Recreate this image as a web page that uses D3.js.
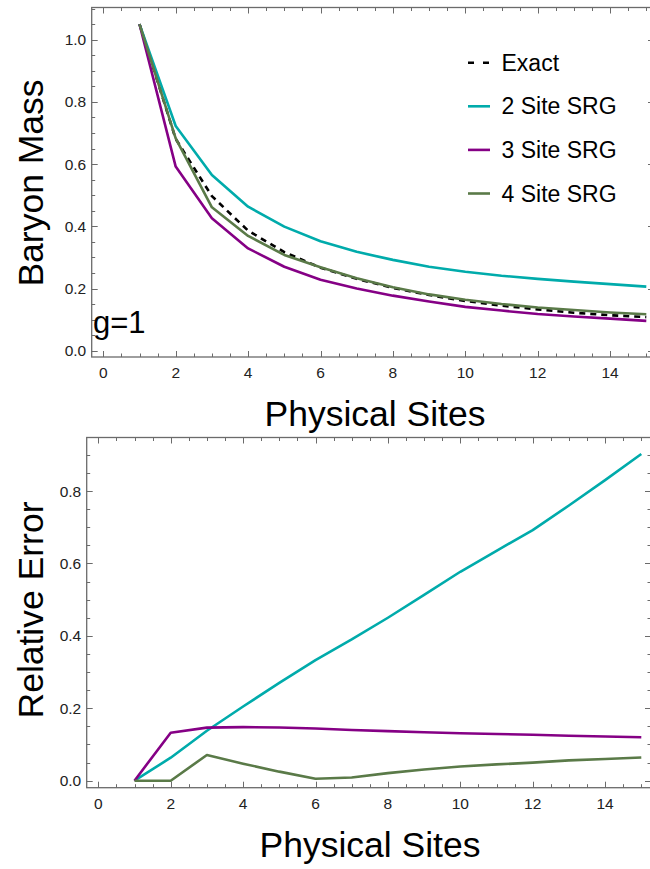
<!DOCTYPE html>
<html>
<head>
<meta charset="utf-8">
<script src="https://cdn.jsdelivr.net/npm/d3@7"></script>
<style>
  html, body { margin: 0; padding: 0; background: #fff; }
  svg { display: block; font-family: "Liberation Sans", Arial, sans-serif; }
</style>
</head>
<body>
<svg id="chart" width="650" height="869"></svg>
<script>
// Number of physical sites
const sites = [1, 2, 3, 4, 5, 6, 7, 8, 9, 10, 11, 12, 13, 14, 15];

// Baryon mass, g = 1
const massExact = [1.05, 0.681, 0.497, 0.386, 0.317, 0.267, 0.231, 0.202, 0.179, 0.160, 0.145, 0.133, 0.122, 0.114, 0.108];
const mass2 = [1.05, 0.7225, 0.565, 0.463, 0.399, 0.352, 0.318, 0.292, 0.270, 0.254, 0.241, 0.231, 0.222, 0.214, 0.206];
const mass3 = [1.05, 0.592, 0.426, 0.329, 0.270, 0.228, 0.200, 0.177, 0.158, 0.141, 0.129, 0.118, 0.110, 0.103, 0.096];
const mass4 = [1.05, 0.683, 0.461, 0.369, 0.308, 0.268, 0.233, 0.204, 0.181, 0.164, 0.150, 0.139, 0.131, 0.123, 0.117];

// Relative error against the exact mass
const err2 = [0, 0.0635, 0.138, 0.205, 0.270, 0.333, 0.390, 0.450, 0.513, 0.577, 0.635, 0.692, 0.760, 0.830, 0.902];
const err3 = [0, 0.1326, 0.1465, 0.148, 0.147, 0.144, 0.140, 0.137, 0.134, 0.131, 0.129, 0.127, 0.124, 0.122, 0.120];
const err4 = [0, 0, 0.071, 0.047, 0.025, 0.0055, 0.009, 0.021, 0.031, 0.039, 0.045, 0.050, 0.056, 0.060, 0.064];

const seriesNames = ["Exact", "2 Site SRG", "3 Site SRG", "4 Site SRG"];
const xTickValues = [0, 2, 4, 6, 8, 10, 12, 14];
const massTickValues = [0, 0.2, 0.4, 0.6, 0.8, 1.0];
const errTickValues = [0, 0.2, 0.4, 0.6, 0.8];

const colors = {
  "Exact": "#000000",
  "2 Site SRG": "#00abab",
  "3 Site SRG": "#850085",
  "4 Site SRG": "#5a7a48"
};
const axisColor = "#6b6b6b";

const svg = d3.select("#chart");

function panel(opts) {
  const { left, right, top, bottom, x, y, yMax, yTicks, yTitle, series } = opts;
  const g = svg.append("g");

  // minor x ticks every 0.5, major every 2
  const xMinor = d3.range(0, 15.5, 0.5).filter(v => x(v) > left + 1 && x(v) < right - 1);
  const yMinorVals = d3.range(0, yMax + 1e-9, 0.05).map(v => +v.toFixed(2)).filter(v => y(v) < bottom - 1 && y(v) > top + 1);
  const isMajorX = v => Math.abs(v % 2) < 1e-9;
  const isMajorY = v => yTicks.some(t => Math.abs(t - v) < 1e-9);

  const tickG = g.append("g").attr("stroke", axisColor).attr("stroke-width", 1);
  xMinor.forEach(v => {
    const L = isMajorX(v) ? 6 : 3.5;
    const px = Math.round(x(v)) + 0.5;
    tickG.append("line").attr("x1", px).attr("x2", px).attr("y1", bottom).attr("y2", bottom - L);
    tickG.append("line").attr("x1", px).attr("x2", px).attr("y1", top).attr("y2", top + L);
  });
  yMinorVals.forEach(v => {
    const L = isMajorY(v) ? 6 : 3.5;
    const py = Math.round(y(v)) + 0.5;
    tickG.append("line").attr("x1", left).attr("x2", left + L).attr("y1", py).attr("y2", py);
    tickG.append("line").attr("x1", right).attr("x2", right - L).attr("y1", py).attr("y2", py);
  });

  // frame
  g.append("rect")
    .attr("x", left).attr("y", top)
    .attr("width", right - left).attr("height", bottom - top)
    .attr("fill", "none").attr("stroke", axisColor).attr("stroke-width", 1.3);

  // tick labels
  g.append("g").selectAll("text").data(xTickValues).join("text")
    .attr("x", d => x(d)).attr("y", bottom + 21)
    .attr("text-anchor", "middle")
    .attr("font-size", 15.5).attr("fill", "#222")
    .text(d => d);
  g.append("g").selectAll("text").data(yTicks).join("text")
    .attr("x", left - 5.5).attr("y", d => y(d) + 5.5)
    .attr("text-anchor", "end")
    .attr("font-size", 15.5).attr("fill", "#222")
    .text(d => d3.format(".1f")(d));

  // axis titles
  g.append("text")
    .attr("x", opts.xTitleX).attr("y", opts.xTitleY)
    .attr("text-anchor", "middle")
    .attr("font-size", 35.5).attr("fill", "#000")
    .text("Physical Sites");
  g.append("text")
    .attr("transform", `translate(${opts.yTitleX},${opts.yTitleY}) rotate(-90)`)
    .attr("text-anchor", "middle")
    .attr("font-size", 35.5).attr("fill", "#000")
    .text(yTitle);

  // data lines
  const clipId = "clip" + Math.round(top);
  svg.append("clipPath").attr("id", clipId).append("rect")
    .attr("x", left).attr("y", top).attr("width", right - left).attr("height", bottom - top);
  const line = d3.line().x(d => x(d[0])).y(d => y(d[1]));
  const lg = g.append("g").attr("clip-path", `url(#${clipId})`);
  series.forEach(s => {
    lg.append("path")
      .datum(sites.map((xv, i) => [xv, s.values[i]]))
      .attr("d", line)
      .attr("fill", "none")
      .attr("stroke", colors[s.name])
      .attr("stroke-width", 2.6)
      .attr("stroke-linejoin", "round")
      .attr("stroke-dasharray", s.dash || null);
  });
  return g;
}

// Upper panel: baryon mass
const xMass = d3.scaleLinear().domain([0, 14]).range([103.3, 610.1]);
const yMass = d3.scaleLinear().domain([0, 1]).range([350.7, 39.7]);
panel({
  left: 91.7, right: 654, top: 7.5, bottom: 357,
  x: xMass, y: yMass, yMax: 1.1, yTicks: massTickValues,
  yTitle: "Baryon Mass", xTitleX: 375, xTitleY: 426, yTitleX: 43, yTitleY: 183,
  series: [
    { name: "Exact", values: massExact, dash: "6,5" },
    { name: "2 Site SRG", values: mass2 },
    { name: "3 Site SRG", values: mass3 },
    { name: "4 Site SRG", values: mass4 }
  ]
});

// g = 1 annotation
svg.append("text")
  .attr("x", 93).attr("y", 333)
  .attr("font-size", 31).attr("fill", "#000")
  .text("g=1");

// legend
const legend = svg.append("g");
seriesNames.forEach((name, i) => {
  const cy = 62.7 + i * 43.6;
  legend.append("line")
    .attr("x1", 468).attr("x2", 490).attr("y1", cy).attr("y2", cy)
    .attr("stroke", colors[name]).attr("stroke-width", 2.6)
    .attr("stroke-dasharray", name === "Exact" ? "6,9" : null);
  legend.append("text")
    .attr("x", 501.5).attr("y", cy + 8)
    .attr("font-size", 23).attr("fill", "#000")
    .text(name);
});

// Lower panel: relative error
const xErr = d3.scaleLinear().domain([0, 14]).range([98.3, 605.1]);
const yErr = d3.scaleLinear().domain([0, 0.8]).range([780.7, 491]);
panel({
  left: 86.7, right: 651, top: 437.5, bottom: 787.7,
  x: xErr, y: yErr, yMax: 0.92, yTicks: errTickValues,
  yTitle: "Relative Error", xTitleX: 370, xTitleY: 857, yTitleX: 43, yTitleY: 610,
  series: [
    { name: "2 Site SRG", values: err2 },
    { name: "3 Site SRG", values: err3 },
    { name: "4 Site SRG", values: err4 }
  ]
});
</script>
</body>
</html>
